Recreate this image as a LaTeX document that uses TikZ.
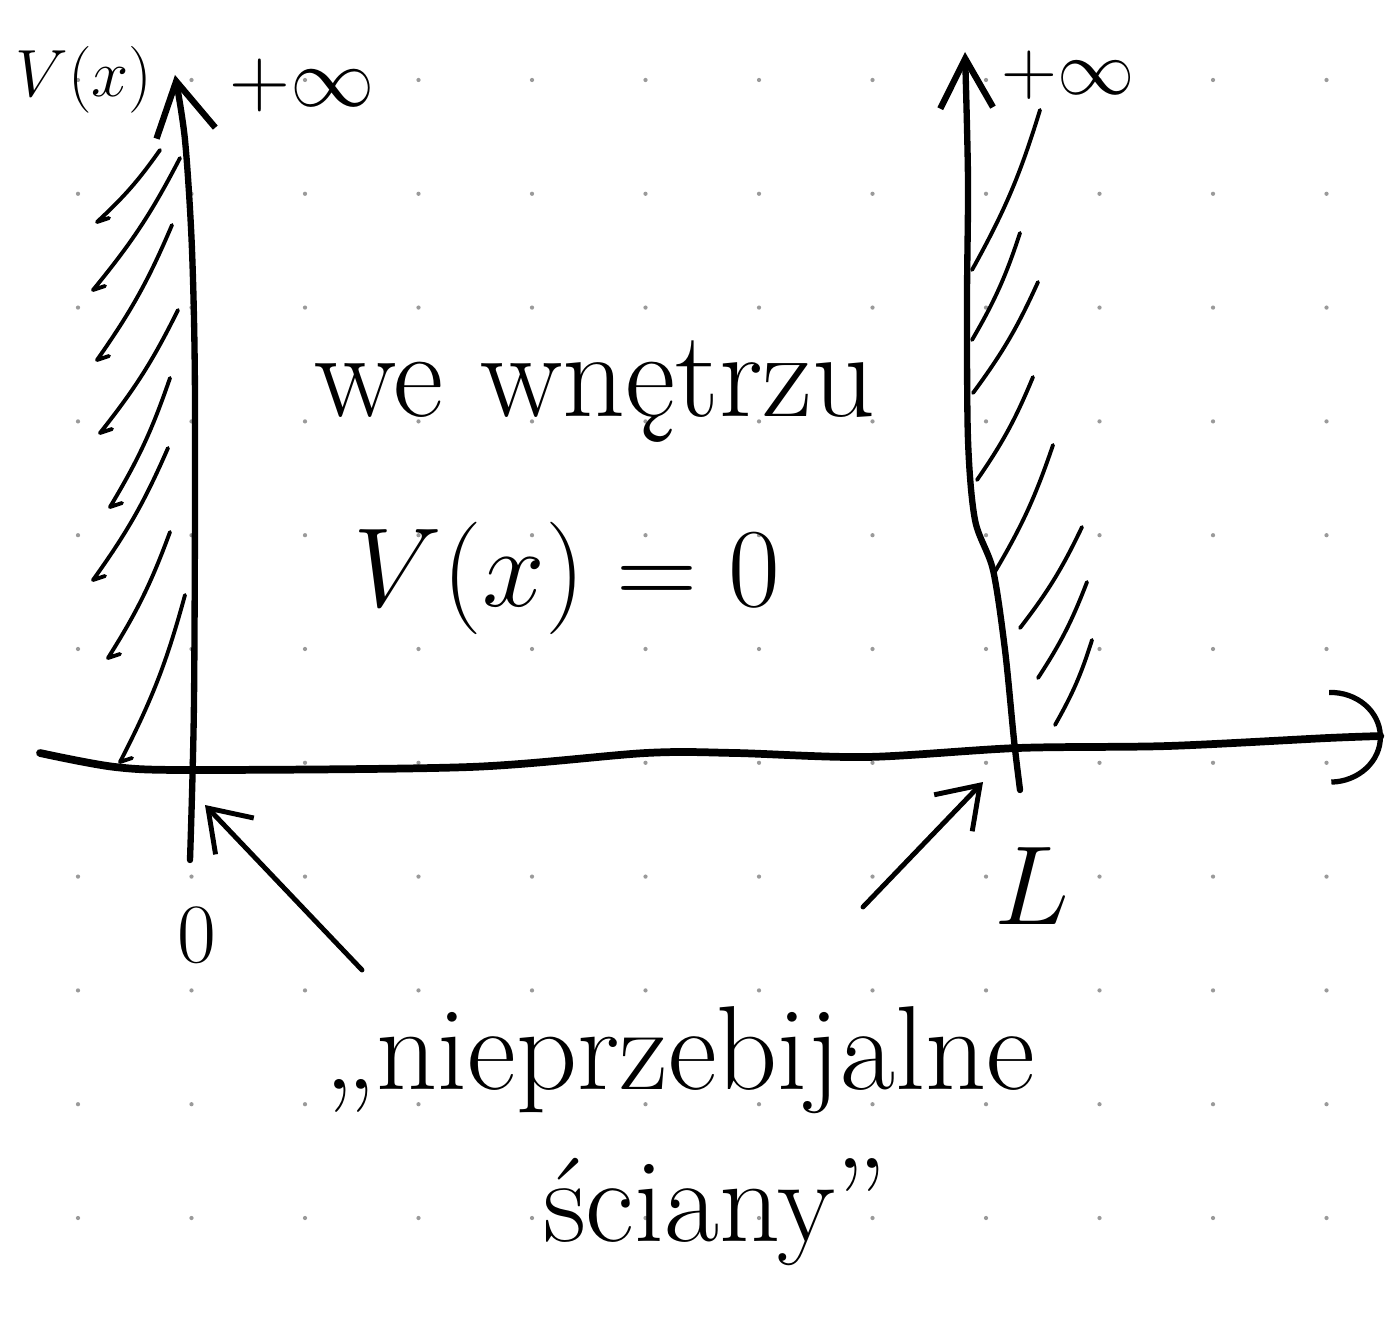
\RequirePackage{fix-cm}
\documentclass[tikz,border=0pt]{standalone}
\usepackage{fontspec}
\usepackage{tikz}
\usetikzlibrary{arrows.meta}
\definecolor{Ink}{HTML}{000000}
\definecolor{GridDot}{HTML}{9A9A9A}

\begin{document}
\begin{tikzpicture}[x=0.01cm,y=-0.01cm,
  axis/.style={line width=1.8pt,draw=Ink,line cap=round,line join=round},
  hatch/.style={line width=1.1pt,draw=Ink,line cap=round,line join=round},
  pointer/.style={line width=1.4pt,draw=Ink,line cap=round,-{Straight Barb[length=11pt,width=15pt]}},
  hand/.style={inner sep=0pt,text=Ink,font=\fontsize{34}{38}\selectfont}
]
\useasboundingbox (0,0) rectangle (1388,1319);
\fill[white] (0,0) rectangle (1388,1319);

\foreach \i in {0,...,11}
  \foreach \j in {0,...,10}
    \fill[GridDot] ({78+113.5*\i},{80+113.8*\j}) circle[radius=0.6pt];

\draw[axis,-{Straight Barb[length=15pt,width=17pt]}] plot[smooth] coordinates {(190,860) (194,700) (195,400) (192,250) (185,140) (175,75)};
\draw[axis,-{Straight Barb[length=14pt,width=15pt]}] plot[smooth] coordinates {(1020,790) (1014,740) (1005,650) (993,570) (975,520) (968,440) (967,300) (968,180) (965,52)};
\draw[axis,line width=2.2pt,-{Arc Barb[length=15pt,width=27pt,line width=1.5pt]}] plot[smooth] coordinates {(40,753) (115,767) (195,770) (470,767) (646,753) (735,753) (867,757) (1018,748) (1168,746) (1328,738) (1383,736)};

\foreach \ax/\ay/\bx/\by in {160/150/97/222, 180/158/93/290, 172/225/97/360, 178/310/100/433,
    170/378/110/507, 168/448/93/580, 170/532/108/658, 185/595/120/762}
  \draw[hatch] (\ax,\ay) to[bend left=6] (\bx,\by) -- ++(12,-4);
\foreach \ax/\ay/\bx/\by in {1040/110/972/270, 1020/233/972/340, 1038/282/973/393, 1033/377/977/480,
    1053/445/993/575, 1082/527/1020/628, 1087/582/1038/678, 1092/640/1055/725}
  \draw[hatch] (\ax,\ay) to[bend left=6] (\bx,\by);

\coordinate (tail0) at (362,970);
\coordinate (tip0) at (205,805);
\coordinate (tailL) at (863,907);
\coordinate (tipL) at (983,782);
\draw[pointer] (tail0) -- (tip0);
\draw[pointer] (tailL) -- (tipL);

\node[hand,font=\fontsize{19}{22}\selectfont] (vlabel) at (84,80) {$V(x)$};
\node[hand,font=\fontsize{24}{28}\selectfont] (infleft) at (302,85) {$+\infty$};
\node[hand,font=\fontsize{22}{26}\selectfont] (infright) at (1068,75) {$+\infty$};
\node[hand,font=\fontsize{35}{40}\selectfont] (inside) at (595,392) {we wnętrzu};
\node[hand,font=\fontsize{32}{36}\selectfont] (zeropot) at (567,578) {$V(x)=0$};
\node[hand,font=\fontsize{24}{28}\selectfont] (zero) at (197,935) {$0$};
\node[hand,font=\fontsize{32}{36}\selectfont] (len) at (1032,886) {$L$};
\node[hand] (walls) at (680,1060) {„nieprzebijalne};
\node[hand] (walls2) at (715,1212) {ściany”};
\end{tikzpicture}
\end{document}
